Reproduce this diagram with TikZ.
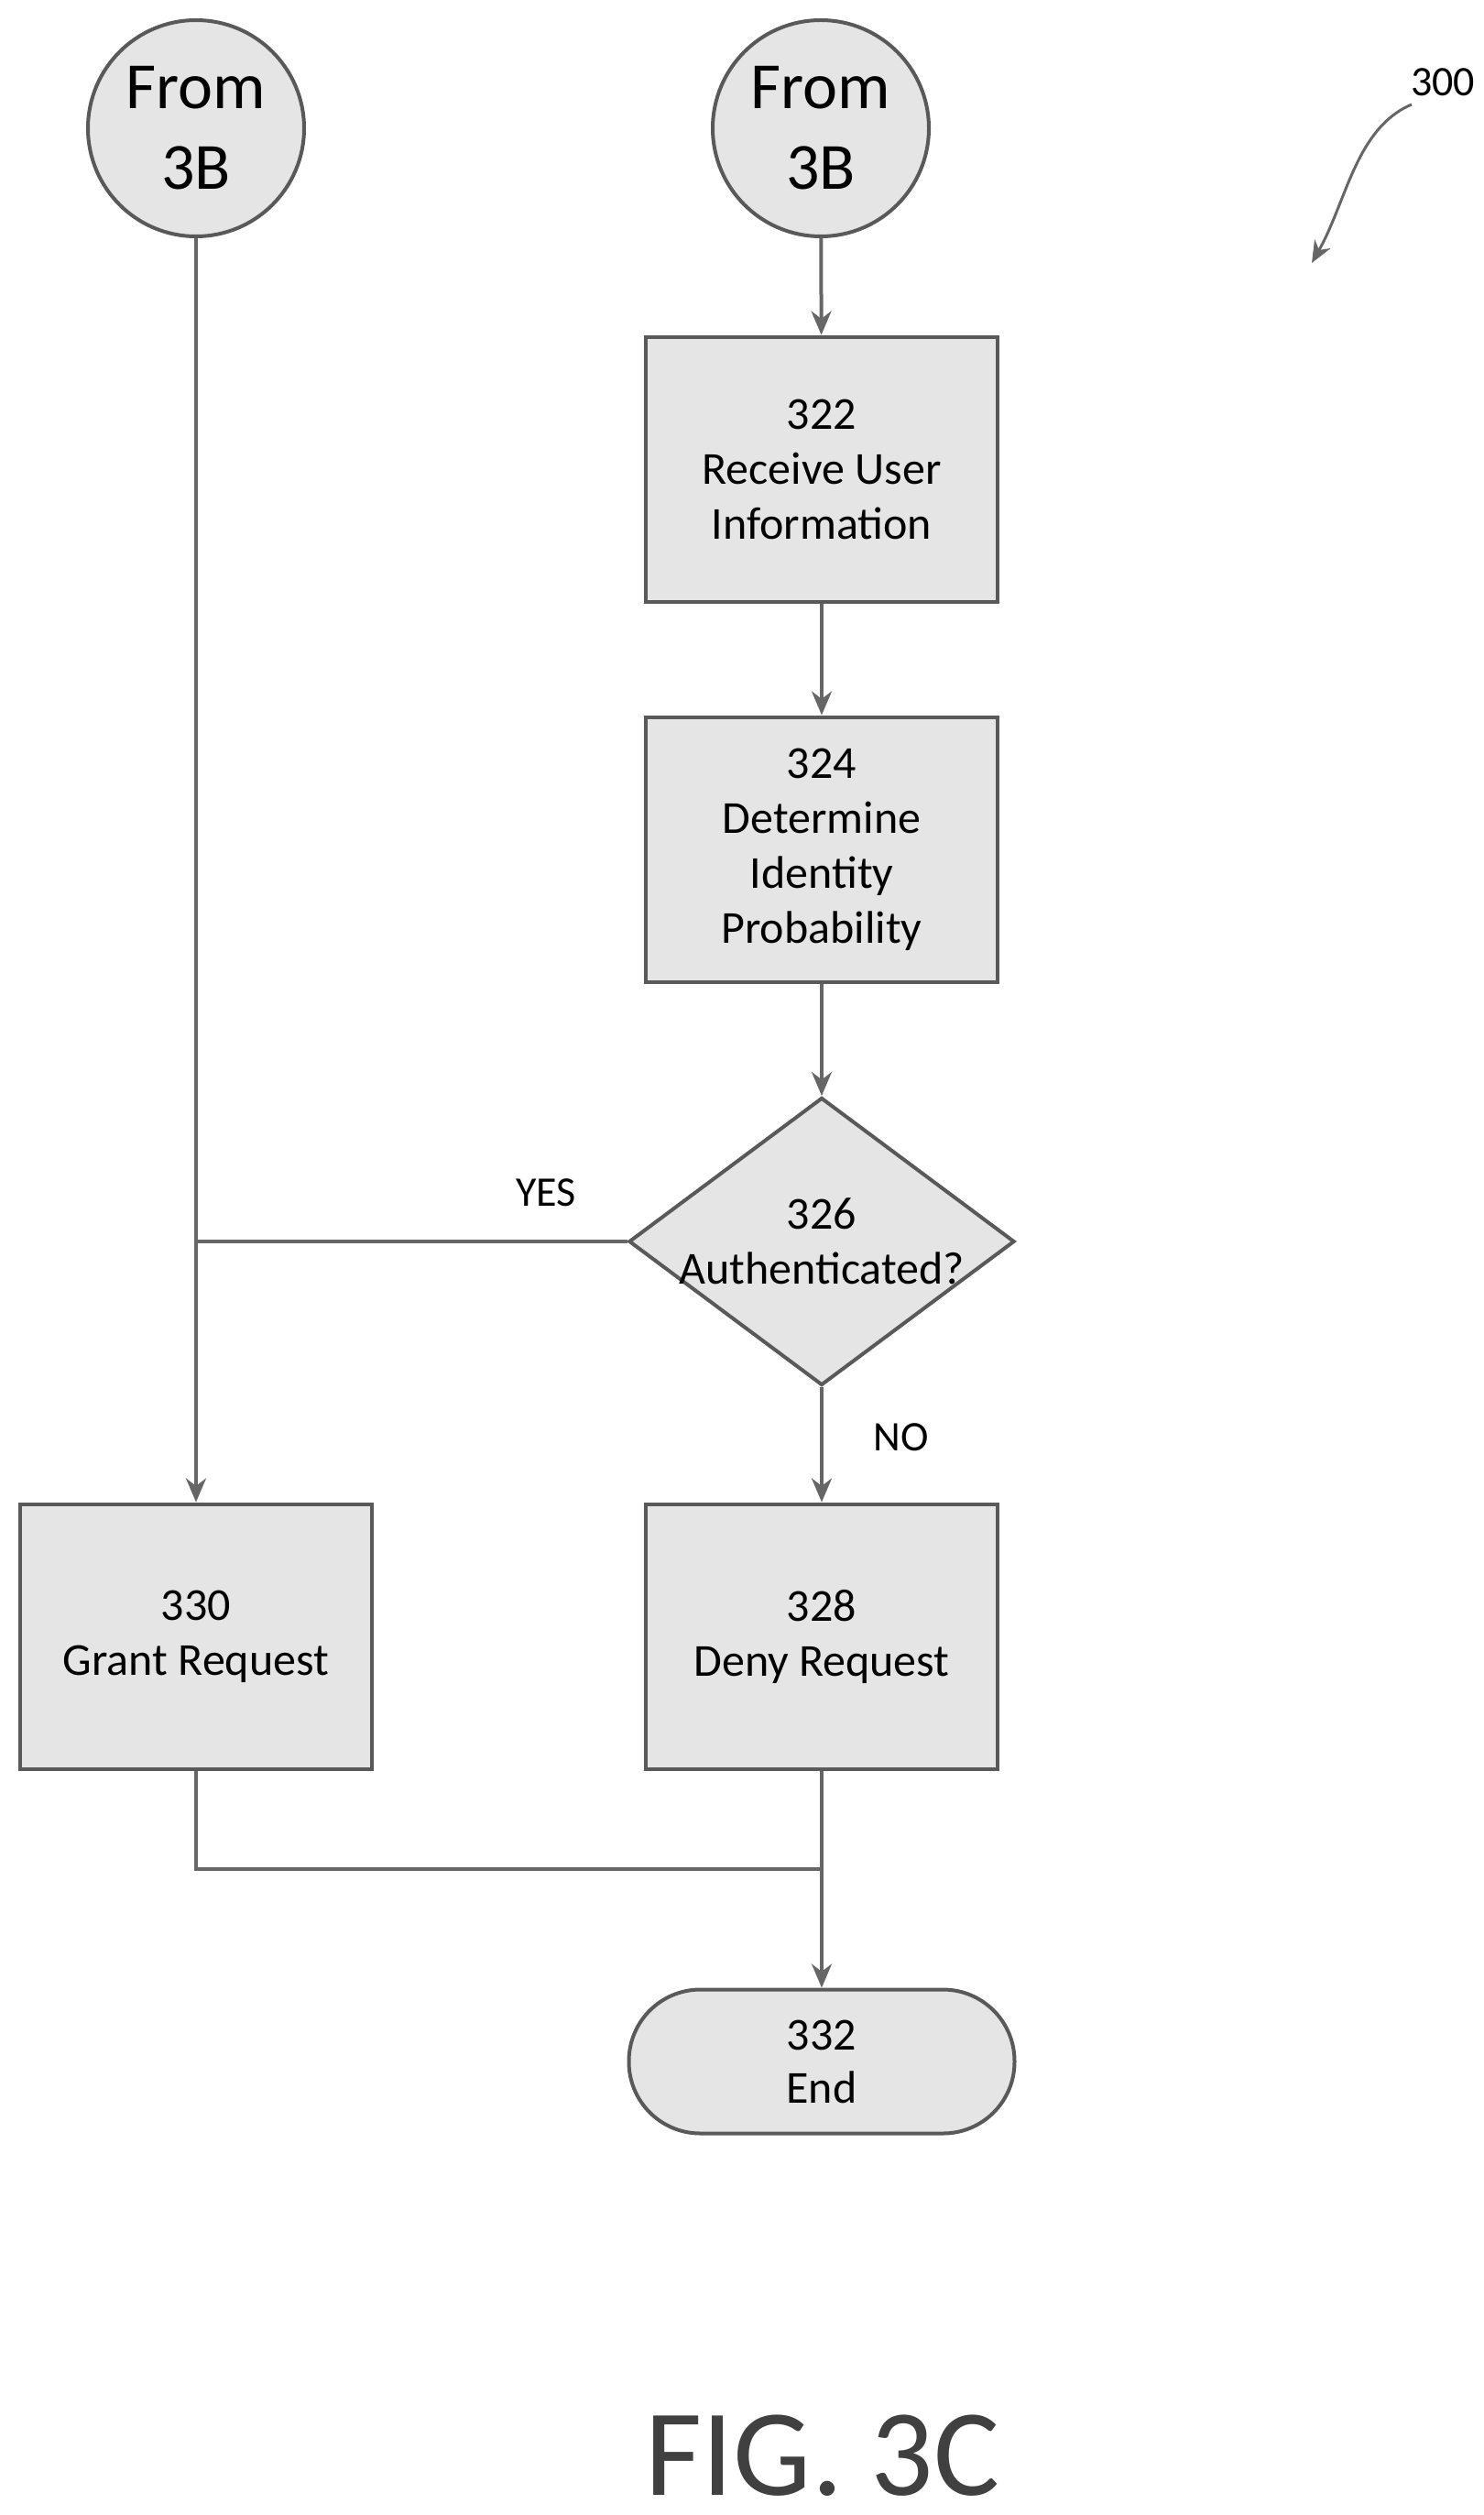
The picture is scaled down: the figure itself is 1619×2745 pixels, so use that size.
\documentclass[tikz,border=0pt]{standalone}
\usepackage{fontspec}
\setmainfont{Carlito}
\usetikzlibrary{shapes.geometric,arrows.meta}
\begin{document}
\begin{tikzpicture}[x=1pt,y=-1pt,
  line width=4pt,
  ln/.style={draw=black!60},
  arr/.style={ln,-{Stealth[length=26pt,width=22pt]}},
  box/.style={draw=black!65,fill=black!10,minimum width=384pt,minimum height=289pt,align=center,font=\fontsize{50}{60}\selectfont},
  lbl/.style={font=\fontsize{46}{52}\selectfont}]
\useasboundingbox (0,0) rectangle (1619,2745);
\node[circle,draw=black!65,fill=black!10,minimum size=236pt,align=center,font=\fontsize{72}{88}\selectfont,inner sep=0] (c1) at (214,140) {From\\3B};
\node[circle,draw=black!65,fill=black!10,minimum size=236pt,align=center,font=\fontsize{72}{88}\selectfont,inner sep=0] (c2) at (896,140) {From\\3B};
\node[box] (b322) at (897,512) {322\\Receive User\\Information};
\node[box] (b324) at (897,927) {324\\Determine\\Identity\\Probability};
\node[diamond,draw=black!65,fill=black!10,minimum width=421pt,minimum height=314pt,inner xsep=-60pt,inner ysep=-20pt,align=center,font=\fontsize{50}{60}\selectfont] (d326) at (897,1355) {326\\Authenticated?};
\node[box] (b330) at (214,1786) {330\\Grant Request};
\node[box] (b328) at (897,1786) {328\\Deny Request};
\node[draw=black!65,fill=black!10,rounded corners=78pt,minimum width=421pt,minimum height=157pt,align=center,font=\fontsize{50}{58}\selectfont] (e332) at (897,2250) {332\\End};
\node[lbl] (yes) at (596,1302) {YES};
\node[lbl] (no) at (984,1569) {NO};
\node[font=\fontsize{46}{52}\selectfont] (n300) at (1575,90) {300};
\node[font=\fontsize{135}{150}\selectfont,text=black!75] (fig) at (898,2680) {FIG. 3C};
\coordinate (j1) at (214,1355);
\coordinate (j2) at (897,2040);
\coordinate (a1) at (1541,114);
\coordinate (a2) at (1432,287);
\draw[arr] (c2) -- (b322);
\draw[arr] (b322) -- (b324);
\draw[arr] (b324) -- (d326);
\draw[arr] (d326) -- (b328);
\draw[arr] (c1) -- (b330);
\draw[ln] (d326.west) -- (j1);
\draw[ln] (b330.south) |- (j2);
\draw[arr] (b328) -- (e332);
\draw[ln,line width=3pt,-{Stealth[length=24pt,width=20pt]}] (a1) .. controls (1480,140) and (1470,220) .. (a2);
\end{tikzpicture}
\end{document}
